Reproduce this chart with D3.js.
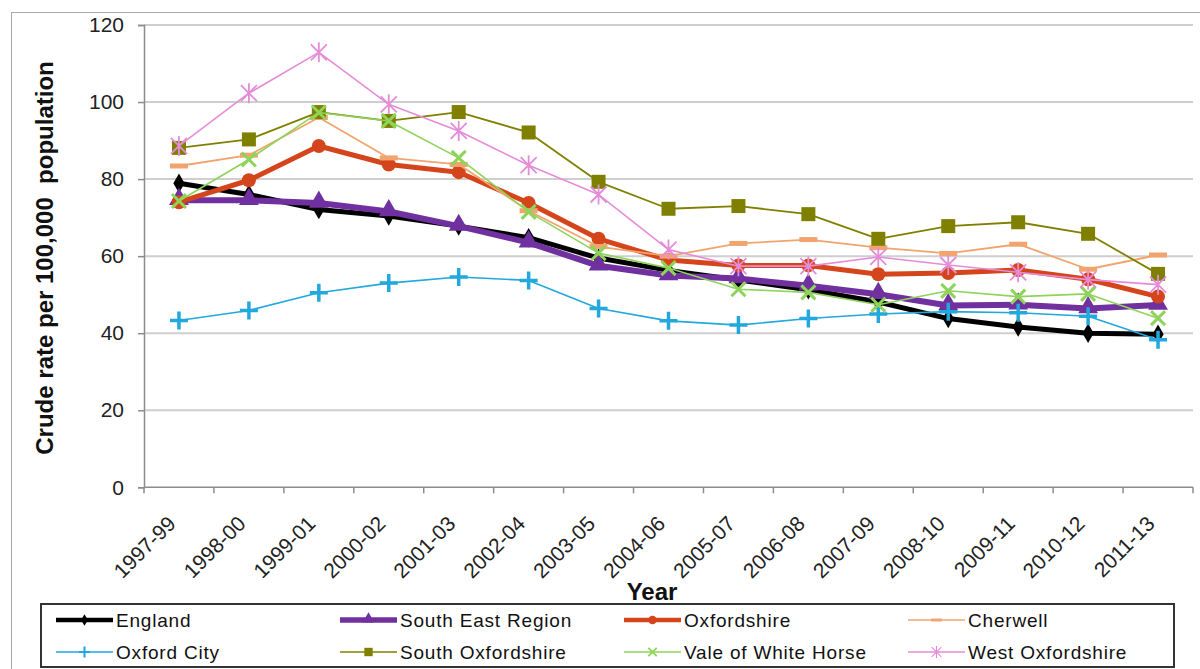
<!DOCTYPE html>
<html>
<head>
<meta charset="utf-8">
<script src="https://cdn.jsdelivr.net/npm/d3@7"></script>
<style>
  html, body { margin: 0; padding: 0; background: #fff; }
  svg { display: block; font-family: "Liberation Sans", Arial, sans-serif; }
</style>
</head>
<body>
<svg id="chart" width="1200" height="669"></svg>
<script>
const categories = ["1997-99","1998-00","1999-01","2000-02","2001-03","2002-04","2003-05","2004-06","2005-07","2006-08","2007-09","2008-10","2009-11","2010-12","2011-13"];
const yTicks = [0, 20, 40, 60, 80, 100, 120];

const england        = [78.9, 76.0, 72.1, 70.4, 67.8, 64.8, 59.5, 56.3, 53.8, 51.3, 48.1, 43.8, 41.6, 40.0, 39.7];
const southEast      = [74.5, 74.5, 73.8, 71.6, 67.8, 63.5, 57.5, 55.0, 54.2, 52.3, 50.1, 47.2, 47.4, 46.4, 47.3];
const oxfordshire    = [74.0, 79.7, 88.6, 83.8, 81.8, 73.8, 64.5, 59.0, 57.6, 57.6, 55.3, 55.6, 56.4, 54.0, 49.5];
const cherwell       = [83.4, 86.2, 96.0, 85.5, 83.8, 71.8, 62.5, 60.0, 63.3, 64.3, 62.2, 60.7, 63.1, 56.6, 60.3];
const oxfordCity     = [43.3, 45.9, 50.5, 53.0, 54.6, 53.7, 46.4, 43.2, 42.1, 43.8, 45.0, 45.6, 45.3, 44.4, 38.3];
const southOxon      = [88.1, 90.3, 97.4, 95.1, 97.4, 92.1, 79.3, 72.3, 73.0, 70.9, 64.5, 67.8, 68.8, 65.8, 55.4];
const valeWhiteHorse = [74.3, 85.1, 97.3, 95.1, 85.5, 71.5, 60.8, 56.9, 51.4, 50.6, 47.4, 51.0, 49.5, 50.2, 43.9];
const westOxon       = [88.6, 102.3, 112.9, 99.4, 92.5, 83.6, 76.0, 61.7, 57.4, 57.4, 59.8, 57.7, 55.8, 53.9, 52.6];

const seriesNames = ["England","South East Region","Oxfordshire","Cherwell","Oxford City","South Oxfordshire","Vale of White Horse","West Oxfordshire"];
const seriesValues = [england, southEast, oxfordshire, cherwell, oxfordCity, southOxon, valeWhiteHorse, westOxon];

const styles = [
  { color: "#000000", width: 5,   marker: "diamond" },
  { color: "#7030A0", width: 6,   marker: "triangle" },
  { color: "#D5451B", width: 5,   marker: "circle" },
  { color: "#F2A46E", width: 1.8, marker: "dash" },
  { color: "#22A8DC", width: 1.6, marker: "plus" },
  { color: "#808000", width: 1.8, marker: "square" },
  { color: "#8FD45A", width: 1.6, marker: "x" },
  { color: "#E58CD8", width: 1.6, marker: "star" }
];

const svg = d3.select("#chart");

// outer chart border
svg.append("rect").attr("x", 11.5).attr("y", 12.5).attr("width", 1200).attr("height", 700)
  .attr("fill", "none").attr("stroke", "#a8a8a8").attr("stroke-width", 1);

const plotL = 144, plotR = 1193, plotT = 25, plotB = 487.3;
const x = d3.scaleBand().domain(categories).range([plotL, plotR]).padding(0);
const y = d3.scaleLinear().domain([0, 120]).range([plotB, plotT]);
const cx = c => x(c) + x.bandwidth() / 2;

// gridlines
svg.append("g")
  .selectAll("line").data(yTicks.filter(t => t > 0)).join("line")
  .attr("x1", plotL).attr("x2", plotR)
  .attr("y1", d => y(d)).attr("y2", d => y(d))
  .attr("stroke", "#cfcfcf").attr("stroke-width", 2);

// y axis
const yAxis = svg.append("g").attr("transform", `translate(${plotL},0)`)
  .call(d3.axisLeft(y).tickValues(yTicks).tickSize(6).tickPadding(14).tickFormat(d3.format("d")));
yAxis.select(".domain").attr("stroke", "#8c8c8c").attr("stroke-width", 1.5);
yAxis.selectAll(".tick line").attr("stroke", "#8c8c8c").attr("stroke-width", 1.5);
yAxis.selectAll(".tick text").attr("font-size", 21).attr("fill", "#222")
  .attr("font-family", "Liberation Sans, Arial, sans-serif");

// x axis baseline and boundary ticks
svg.append("line").attr("x1", plotL).attr("x2", plotR).attr("y1", plotB).attr("y2", plotB)
  .attr("stroke", "#8c8c8c").attr("stroke-width", 1.5);
const bounds = categories.map(c => x(c)).concat([x(categories[categories.length - 1]) + x.bandwidth()]);
svg.append("g").selectAll("line").data(bounds).join("line")
  .attr("x1", d => d).attr("x2", d => d).attr("y1", plotB).attr("y2", plotB + 6)
  .attr("stroke", "#8c8c8c").attr("stroke-width", 1.5);

// x tick labels
svg.append("g").selectAll("text").data(categories).join("text")
  .attr("transform", c => `translate(${cx(c) - 2},${525}) rotate(-45)`)
  .attr("text-anchor", "end")
  .attr("font-size", 21).attr("fill", "#222")
  .text(c => c);

// axis titles
svg.append("text")
  .attr("transform", `translate(53,258) rotate(-90)`)
  .attr("text-anchor", "middle").attr("font-weight", "bold").attr("font-size", 24).attr("fill", "#111")
  .style("white-space", "pre")
  .text("Crude rate per 100,000  population");
svg.append("text")
  .attr("x", 652).attr("y", 600).attr("text-anchor", "middle")
  .attr("font-weight", "bold").attr("font-size", 24).attr("fill", "#111").text("Year");

// marker drawing
function drawMarker(g, type, color, scale) {
  const s = scale || 1;
  switch (type) {
    case "diamond":
      g.append("path").attr("d", d3.symbol(d3.symbolDiamond, 110 * s * s)()).attr("fill", color);
      break;
    case "triangle":
      g.append("path").attr("d", d3.symbol(d3.symbolTriangle, 170 * s * s)()).attr("transform", "translate(0,-1)").attr("fill", color);
      break;
    case "circle":
      g.append("circle").attr("r", 7 * s).attr("fill", color);
      break;
    case "square":
      g.append("rect").attr("x", -7 * s).attr("y", -7 * s).attr("width", 14 * s).attr("height", 14 * s).attr("fill", color);
      break;
    case "dash":
      g.append("rect").attr("x", -9 * s).attr("y", -2.5 * s).attr("width", 18 * s).attr("height", 5 * s).attr("fill", color);
      break;
    case "plus":
      g.append("path").attr("d", `M${-9 * s},0H${9 * s}M0,${-9 * s}V${9 * s}`).attr("stroke", color).attr("stroke-width", 3.5 * s);
      break;
    case "x":
      g.append("path").attr("d", `M${-7 * s},${-7 * s}L${7 * s},${7 * s}M${-7 * s},${7 * s}L${7 * s},${-7 * s}`).attr("stroke", color).attr("stroke-width", 3 * s);
      break;
    case "star":
      g.append("path").attr("d", `M${-8 * s},${-8 * s}L${8 * s},${8 * s}M${-8 * s},${8 * s}L${8 * s},${-8 * s}M0,${-10 * s}V${10 * s}`).attr("stroke", color).attr("stroke-width", 1.8 * s);
      break;
  }
}

const line = d3.line().x((d, i) => cx(categories[i])).y(d => y(d));

seriesValues.forEach((vals, si) => {
  const st = styles[si];
  const g = svg.append("g").attr("class", "series");
  g.append("path").datum(vals).attr("d", line)
    .attr("fill", "none").attr("stroke", st.color).attr("stroke-width", st.width)
    .attr("stroke-linejoin", "round").attr("stroke-linecap", "round");
  g.selectAll("g.m").data(vals).join("g").attr("class", "m")
    .attr("transform", (d, i) => `translate(${cx(categories[i])},${y(d)})`)
    .each(function () { drawMarker(d3.select(this), st.marker, st.color, 1); });
});

// legend
svg.append("rect").attr("x", 41).attr("y", 604).attr("width", 1133).attr("height", 63)
  .attr("fill", "#fff").attr("stroke", "#333").attr("stroke-width", 2);
const legCols = [56, 340, 624, 908];
const legRows = [620, 652];
seriesNames.forEach((name, i) => {
  const st = styles[i];
  const lx = legCols[i % 4], ly = legRows[Math.floor(i / 4)];
  const g = svg.append("g").attr("transform", `translate(${lx},${ly})`);
  g.append("line").attr("x1", 0).attr("x2", 57).attr("y1", 0).attr("y2", 0)
    .attr("stroke", st.color).attr("stroke-width", Math.max(st.width * 0.9, 1.6));
  const m = g.append("g").attr("transform", "translate(28.5,0)");
  drawMarker(m, st.marker, st.color, 0.6);
  g.append("text").attr("x", 60).attr("y", 7).attr("font-size", 19).attr("letter-spacing", 0.8)
    .attr("fill", "#111").text(name);
});
</script>
</body>
</html>
